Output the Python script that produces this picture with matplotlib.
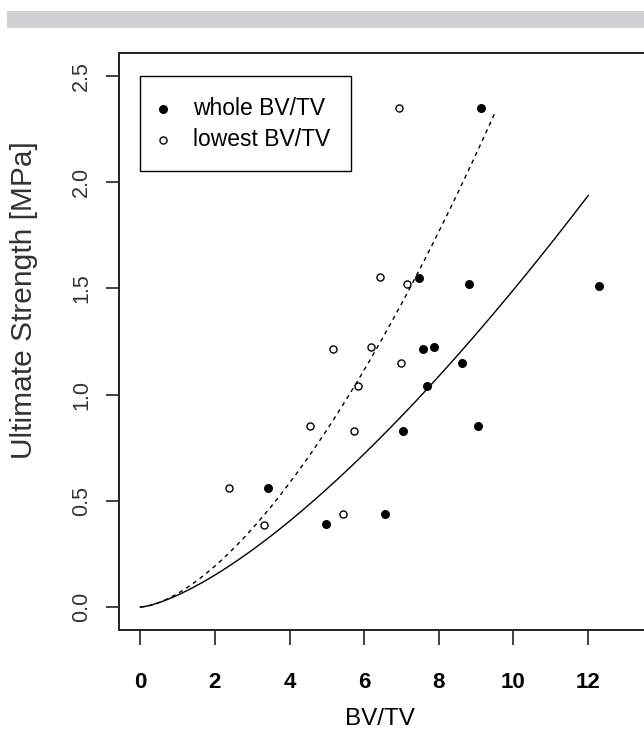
import numpy as np
import matplotlib
matplotlib.use('Agg')
import matplotlib.pyplot as plt
from matplotlib.patches import Rectangle

# values
whole_x = [9.14, 7.47, 8.81, 12.30, 7.59, 7.88, 8.62, 7.68, 7.05, 9.06, 3.43, 4.98, 6.56]
whole_y = [2.35, 1.55, 1.52, 1.51, 1.213, 1.226, 1.147, 1.042, 0.829, 0.854, 0.56, 0.39, 0.438]
lowest_x = [6.94, 6.43, 7.16, 5.17, 6.18, 6.98, 5.84, 4.55, 5.73, 2.38, 3.32, 5.43]
lowest_y = [2.35, 1.555, 1.519, 1.213, 1.226, 1.147, 1.040, 0.854, 0.829, 0.56, 0.386, 0.438]

# power-law fits y = a * x^b as drawn in the picture (a, b, last x)
whole_fit = (0.0561, 1.425, 12.01)
lowest_fit = (0.0638, 1.597, 9.49)

x_ticks = [0, 2, 4, 6, 8, 10, 12]
y_ticks = [0.0, 0.5, 1.0, 1.5, 2.0, 2.5]

plt.rcParams['font.family'] = ['Liberation Sans', 'DejaVu Sans']

W, H = 644, 754
fig = plt.figure(figsize=(W / 100, H / 100), dpi=100)

# grey band at the top
fig.patches.append(Rectangle((7.3 / W, 1 - 27.7 / H), 1, 16.7 / H,
                             transform=fig.transFigure, color='#d0d1d3', lw=0))

left, right, bottom, top = 119.3, 686.0, 630.0, 53.3
ax = fig.add_axes([left / W, 1 - bottom / H, (right - left) / W, (bottom - top) / H])
ax.set_xlim(-0.563, 14.63)
ax.set_ylim(-0.108, 2.607)

a, b, xmax = whole_fit
xs = np.linspace(0, xmax, 200)
ax.plot(xs, a * xs ** b, color='black', lw=1.0)
a, b, xmax = lowest_fit
xs = np.linspace(0, xmax, 200)
ax.plot(xs, a * xs ** b, color='black', lw=1.0, dashes=(3, 3))

ax.scatter(whole_x, whole_y, s=42, color='black', marker='o', lw=0, label='whole BV/TV', zorder=3)
ax.scatter(lowest_x, lowest_y, s=26, facecolor='white', edgecolor='black', marker='o',
           lw=1.0, label='lowest BV/TV', zorder=3)

ax.set_xticks(x_ticks)
ax.set_xticklabels([str(t) for t in x_ticks], fontsize=16, fontweight='bold')
ax.set_yticks(y_ticks)
ax.set_yticklabels(['%.1f' % t for t in y_ticks], fontsize=15.5, rotation=90, va='center')
ax.tick_params(axis='x', length=11, width=1.2, pad=19, colors='#222222', labelcolor='black')
ax.tick_params(axis='y', length=9.5, width=1.2, pad=10, colors='#222222', labelcolor='#333333')
for s in ax.spines.values():
    s.set_linewidth(1.4)
    s.set_color('#222222')

ax.set_xlabel('BV/TV', fontsize=17.5)
ax.xaxis.set_label_coords((380 - left) / (right - left), -(719 - bottom) / (bottom - top))
ax.set_ylabel('Ultimate Strength [MPa]', fontsize=21.5, color='#333333')
ax.yaxis.set_label_coords(-(left - 24) / (right - left), (bottom - 300) / (bottom - top))
ax.xaxis.label.set_va('center')
ax.yaxis.label.set_va('center')

leg = ax.legend(loc='upper left', bbox_to_anchor=((140 - left) / (right - left), (bottom - 76) / (bottom - top)),
                fontsize=16.5, frameon=True, fancybox=False, edgecolor='black', framealpha=1,
                scatterpoints=1, handletextpad=1.2, handlelength=0.2, borderpad=0.9,
                labelspacing=0.35, borderaxespad=0)
leg.get_frame().set_linewidth(1.0)

fig.savefig('out.png', dpi=100)
